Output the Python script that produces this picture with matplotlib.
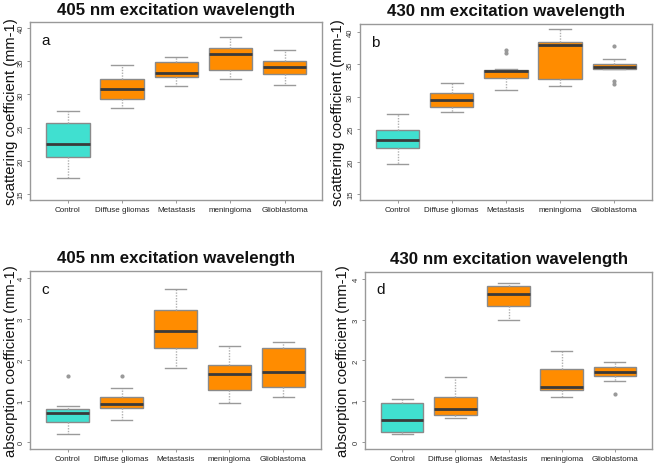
import matplotlib
matplotlib.use('Agg')
import matplotlib.pyplot as plt

plt.rcParams['font.family'] = ['Liberation Sans', 'DejaVu Sans']

groups = ['Control', 'Diffuse gliomas', 'Metastasis', 'meningioma', 'Glioblastoma']
box_colors = ['#40E0D0', '#FF8C00', '#FF8C00', '#FF8C00', '#FF8C00']

# box stats per group: (whislo, q1, med, q3, whishi), plus outliers
scat_405 = [(17.4, 20.6, 22.6, 25.7, 27.5),
            (28.0, 29.3, 30.8, 32.3, 34.4),
            (31.3, 32.6, 33.2, 34.9, 35.6),
            (32.4, 33.7, 36.1, 37.0, 38.7),
            (31.5, 33.1, 34.2, 35.0, 36.7)]
scat_405_out = [[], [], [], [], []]

scat_430 = [(19.7, 22.1, 23.3, 24.9, 27.4),
            (27.7, 28.35, 29.5, 30.6, 32.1),
            (31.0, 32.9, 33.9, 34.15, 34.2),
            (31.7, 32.7, 37.9, 38.4, 40.4),
            (34.25, 34.25, 34.6, 35.05, 35.8)]
scat_430_out = [[], [], [36.7, 37.2], [], [37.8, 32.4, 31.9]]

abs_405 = [(0.19, 0.50, 0.71, 0.81, 0.87),
           (0.54, 0.84, 0.94, 1.10, 1.31),
           (1.81, 2.28, 2.70, 3.21, 3.72),
           (0.95, 1.27, 1.66, 1.87, 2.33),
           (1.09, 1.34, 1.70, 2.30, 2.44)]
abs_405_out = [[1.61], [1.61], [], [], []]

abs_430 = [(0.20, 0.24, 0.55, 0.96, 1.06),
           (0.59, 0.67, 0.80, 1.11, 1.59),
           (3.00, 3.33, 3.62, 3.82, 3.90),
           (1.10, 1.27, 1.35, 1.79, 2.24),
           (1.49, 1.61, 1.72, 1.85, 1.96)]
abs_430_out = [[], [], [], [], [1.18]]

panels = [
    # stats, outliers, ylim, yticks, letter, title, ylabel, axes rect, ylabel x
    (scat_405, scat_405_out, (14.1, 40.9), [15, 20, 25, 30, 35, 40], 'a',
     '405 nm excitation wavelength', 'scattering coefficient (mm-1)',
     [0.0455, 0.567, 0.443, 0.383], 0.017),
    (scat_430, scat_430_out, (14.1, 41.2), [15, 20, 25, 30, 35, 40], 'b',
     '430 nm excitation wavelength', 'scattering coefficient (mm-1)',
     [0.545, 0.567, 0.443, 0.379], 0.512),
    (abs_405, abs_405_out, (-0.17, 4.17), [0, 1, 2, 3, 4], 'c',
     '405 nm excitation wavelength', 'absorption coefficient (mm-1)',
     [0.0455, 0.030, 0.441, 0.384], 0.017),
    (abs_430, abs_430_out, (-0.17, 4.17), [0, 1, 2, 3, 4], 'd',
     '430 nm excitation wavelength', 'absorption coefficient (mm-1)',
     [0.553, 0.030, 0.435, 0.382], 0.520),
]

fig = plt.figure(figsize=(6.6, 4.64), dpi=100)

for stats, outs, ylim, yticks, letter, title, ylabel, rect, lab_x in panels:
    ax = fig.add_axes(rect)
    bxp_stats = []
    for name, s, o in zip(groups, stats, outs):
        bxp_stats.append(dict(label=name, whislo=s[0], q1=s[1], med=s[2],
                              q3=s[3], whishi=s[4], fliers=o))
    bp = ax.bxp(bxp_stats, positions=range(1, 6), widths=0.8, patch_artist=True,
                boxprops=dict(edgecolor='#8a8a8a', linewidth=1.0),
                medianprops=dict(color='#3a3a3a', linewidth=2.0),
                whiskerprops=dict(color='#b0b0b0', linestyle=(0, (1, 1)), linewidth=1.0),
                capprops=dict(color='#9a9a9a', linewidth=1.0),
                flierprops=dict(marker='o', markersize=2, markerfacecolor='#999999',
                                markeredgecolor='#999999'))
    for patch, c in zip(bp['boxes'], box_colors):
        patch.set_facecolor(c)
    ax.set_xlim(0.3, 5.7)
    ax.set_ylim(*ylim)
    ax.set_yticks(yticks)
    ax.set_yticklabels([str(t) for t in yticks], rotation=90, va='center',
                       fontsize=5.5, color='#333333')
    ax.set_xticks(range(1, 6))
    ax.set_xticklabels(groups, fontsize=5.8, color='#222222')
    ax.tick_params(axis='both', length=2.5, width=0.6, color='#888888', pad=2)
    ax.tick_params(axis='y', pad=1.5)
    for sp in ax.spines.values():
        sp.set_color('#999999')
        sp.set_linewidth(1.0)
    ax.text(0.04, 0.94, letter, transform=ax.transAxes, fontsize=11,
            va='top', ha='left', color='#111111')
    x0, y0, w, h = rect
    fig.text(x0 + w / 2, y0 + h + 0.012, title, ha='center', va='bottom',
             fontsize=12.2, fontweight='bold', color='#111111')
    fig.text(lab_x, y0 + h / 2, ylabel, rotation=90, ha='center',
             va='center', fontsize=10.6, color='#111111')

fig.savefig('out.png', dpi=100)
